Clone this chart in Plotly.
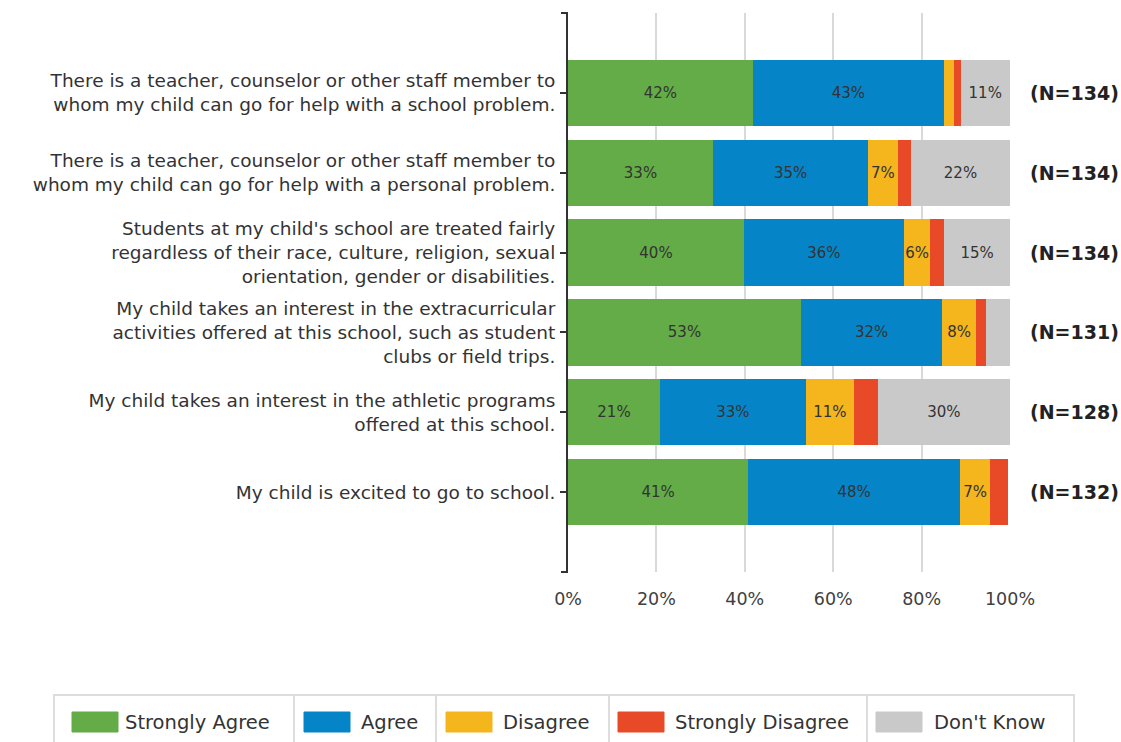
from plotly import graph_objects as go

# survey statements, top to bottom
statements = [
    "There is a teacher, counselor or other staff member to<br>whom my child can go for help with a school problem.",
    "There is a teacher, counselor or other staff member to<br>whom my child can go for help with a personal problem.",
    "Students at my child's school are treated fairly<br>regardless of their race, culture, religion, sexual<br>orientation, gender or disabilities.",
    "My child takes an interest in the extracurricular<br>activities offered at this school, such as student<br>clubs or field trips.",
    "My child takes an interest in the athletic programs<br>offered at this school.",
    "My child is excited to go to school.",
]
n_labels = ["(N=134)", "(N=134)", "(N=134)", "(N=131)", "(N=128)", "(N=132)"]

responses = ["Strongly Agree", "Agree", "Disagree", "Strongly Disagree", "Don't Know"]
strongly_agree = [41.8, 32.8, 39.8, 52.7, 20.8, 40.8]
agree = [43.3, 35.1, 36.2, 32.0, 33.0, 47.9]
disagree = [2.2, 6.7, 6.0, 7.6, 10.9, 6.8]
strongly_disagree = [1.5, 3.0, 3.1, 2.3, 5.4, 4.1]
dont_know = [11.2, 22.4, 14.9, 5.4, 29.9, 0.0]

colors = ["#63AC47", "#0585C8", "#F5B51D", "#E84A27", "#C9C9C9"]
x_ticks = [0, 20, 40, 60, 80, 100]
x_tick_labels = ["0%", "20%", "40%", "60%", "80%", "100%"]

FONT = "DejaVu Sans"
# plot area in pixels, used to place the hand-drawn legend
L, R, T, B = 568, 1010, 13, 572


def px(x):
    return (x - L) / (R - L)


def py(y):
    return (B - y) / (B - T)


def main() -> None:
    fig = go.Figure()
    series = [strongly_agree, agree, disagree, strongly_disagree, dont_know]
    for name, vals, col in zip(responses, series, colors):
        fig.add_trace(
            go.Bar(
                y=statements,
                x=vals,
                name=name,
                orientation="h",
                marker=dict(color=col, line=dict(width=0)),
                width=0.83,
                text=[f"{v:.0f}%" if v >= 5.5 else "" for v in vals],
                textposition="inside",
                insidetextanchor="middle",
                textangle=0,
                constraintext="none",
                textfont=dict(family=FONT, size=15, color="#333333"),
                showlegend=False,
                hoverinfo="x+name",
            )
        )

    for s, n in zip(statements, n_labels):
        fig.add_annotation(
            x=1.04, xref="paper", y=s, yref="y",
            text=f"<b>{n}</b>", showarrow=False, xanchor="left",
            font=dict(family=FONT, size=19, color="#222222"),
        )

    fig.update_layout(
        barmode="stack",
        width=1121,
        height=742,
        margin=dict(l=L, r=1121 - R, t=T, b=742 - B),
        paper_bgcolor="white",
        plot_bgcolor="white",
        xaxis=dict(
            range=[0, 100],
            tickvals=x_ticks,
            ticktext=x_tick_labels,
            showgrid=True,
            gridcolor="#D9D9D9",
            gridwidth=2,
            zeroline=False,
            showline=False,
            tickfont=dict(family=FONT, size=17.5, color="#404040"),
            ticklabelstandoff=14,
        ),
        yaxis=dict(
            type="category",
            range=[6, -1],
            showline=True,
            linecolor="#333333",
            linewidth=2,
            ticks="outside",
            ticklen=6,
            tickwidth=2,
            tickcolor="#333333",
            showgrid=False,
            tickfont=dict(family=FONT, size=18.5, color="#333333"),
            ticklabelstandoff=1,
        ),
    )

    # bracket ends of the category axis
    for yy in (0, 1):
        fig.add_shape(type="line", xref="paper", yref="paper",
                      x0=px(L - 7), x1=px(L), y0=yy, y1=yy,
                      line=dict(color="#333333", width=2))

    # legend drawn as a boxed row
    top, bot = 695, 760
    fig.add_shape(type="rect", xref="paper", yref="paper",
                  x0=px(54), x1=px(1074), y0=py(top), y1=py(bot),
                  line=dict(color="#DDDDDD", width=2), fillcolor="white", layer="below")
    swatch_x = [72, 304, 446, 618, 876]
    text_x = [123, 359, 501, 673, 932]
    seps = [294, 436, 609, 867]
    for xs in seps:
        fig.add_shape(type="line", xref="paper", yref="paper",
                      x0=px(xs), x1=px(xs), y0=py(top), y1=py(bot),
                      line=dict(color="#DDDDDD", width=2))
    for name, col, sx, tx in zip(responses, colors, swatch_x, text_x):
        fig.add_shape(type="rect", xref="paper", yref="paper",
                      x0=px(sx), x1=px(sx + 46), y0=py(712), y1=py(732),
                      line=dict(color=col, width=1), fillcolor=col)
        fig.add_annotation(
            x=px(tx), y=py(722), xref="paper", yref="paper",
            text=name, showarrow=False, xanchor="left", yanchor="middle",
            font=dict(family=FONT, size=19.5, color="#333333"),
        )

    # drop the default page margin so the figure sits at the window corner
    fig.write_html(
        "out.html",
        config=dict(displayModeBar=False),
        post_script="document.body.style.margin='0';document.body.style.overflow='hidden';",
    )


if __name__ == "__main__":
    main()
